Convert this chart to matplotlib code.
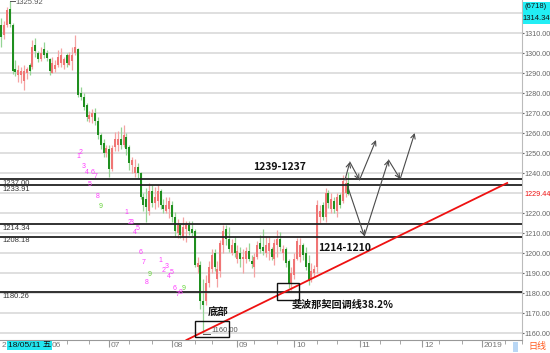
import matplotlib
matplotlib.use('Agg')
import matplotlib.pyplot as plt
import matplotlib.transforms as mtransforms
from matplotlib.patches import Rectangle
import numpy as np
import pandas as pd

plt.rcParams['font.family'] = ['Liberation Sans', 'Noto Sans CJK SC', 'DejaVu Sans']
CJK = ['Noto Sans CJK SC', 'DejaVu Sans']

# daily bars from 2018-05-09 (one per weekday)
first_day = '2018-05-09'
opens = [1314, 1309, 1314, 1322, 1314, 1292, 1289, 1289, 1286, 1290,
         1294, 1293, 1304, 1300, 1297, 1302, 1300, 1297, 1290, 1292,
         1294, 1295, 1294, 1299, 1294, 1296, 1300, 1302, 1280, 1278,
         1274, 1267, 1268, 1270, 1266, 1259, 1255, 1250, 1252, 1242,
         1253, 1254, 1257, 1254, 1258, 1253, 1244, 1240, 1243, 1240,
         1228, 1227, 1221, 1231, 1225, 1226, 1231, 1224, 1221, 1222,
         1224, 1218, 1210, 1214, 1208, 1212, 1214, 1212, 1211, 1193,
         1194, 1176, 1176, 1185, 1192, 1200, 1187, 1191, 1204, 1212,
         1207, 1200, 1205, 1197, 1200, 1197, 1197, 1201, 1196, 1193,
         1198, 1205, 1203, 1200, 1201, 1202, 1197, 1204, 1207, 1200,
         1202, 1196, 1185, 1189, 1197, 1198, 1204, 1200, 1195, 1187,
         1190, 1193, 1218, 1224, 1218, 1230, 1222, 1226, 1221, 1229,
         1226, 1230, 1235]
highs = [1317.5, 1316, 1323, 1325.92, 1315, 1296.5, 1294, 1293, 1294, 1293,
         1295, 1306.5, 1307.5, 1301, 1303, 1305.5, 1301.5, 1297.5, 1298, 1296.5,
         1301.5, 1302.5, 1298, 1300, 1300.5, 1303, 1309, 1302.5, 1283, 1280,
         1275, 1271, 1272, 1272.5, 1268, 1260, 1257, 1254, 1254, 1254,
         1260.5, 1261, 1263, 1264, 1260, 1254, 1248, 1247, 1245, 1240.5,
         1230, 1232.5, 1235, 1234, 1233, 1234, 1232, 1227, 1228, 1228,
         1226, 1220.5, 1217, 1215, 1218, 1216, 1216, 1216, 1212, 1198,
         1196, 1187, 1189, 1196, 1202, 1202, 1196, 1206.5, 1214, 1214,
         1213, 1207, 1208, 1204, 1203, 1202, 1203, 1205, 1199, 1200,
         1206, 1209, 1212, 1208, 1208, 1203, 1207, 1211.5, 1210.5, 1204,
         1203, 1197, 1193, 1200, 1207.5, 1207.5, 1205, 1203, 1199, 1195,
         1194, 1226.5, 1224, 1225.5, 1232.5, 1231.5, 1230, 1228, 1230, 1230,
         1239, 1238, 1240.5]
lows = [1303, 1307, 1313, 1313, 1289.5, 1288.5, 1285.5, 1285, 1281.5, 1287,
        1289, 1292, 1298, 1295.5, 1296, 1297.5, 1296, 1289, 1290, 1290.5,
        1293, 1293, 1292, 1293, 1294, 1291.5, 1299, 1278, 1276.5, 1271.5,
        1266, 1265.5, 1265, 1264, 1257, 1252, 1248, 1248, 1238, 1241,
        1251, 1251, 1252, 1253, 1249, 1241.5, 1240, 1238, 1237.5, 1227,
        1221, 1215.5, 1219, 1223, 1222, 1223, 1222, 1220, 1220, 1217.5,
        1215.5, 1208, 1207.5, 1207.5, 1206.5, 1205.5, 1209, 1208.5, 1193, 1190,
        1172, 1160, 1174, 1183, 1190, 1191, 1183, 1188, 1200, 1204,
        1200.5, 1199, 1198, 1195, 1193, 1190, 1195, 1196, 1192.5, 1188,
        1197, 1200, 1199, 1198, 1196.5, 1196.5, 1194, 1198, 1201, 1196.5,
        1193, 1182.5, 1181.5, 1187, 1196.5, 1195.5, 1196.5, 1191.5, 1184, 1185.5,
        1188, 1190, 1215, 1216.5, 1215.5, 1222.5, 1220, 1220, 1218, 1222.5,
        1225, 1228, 1229]
closes = [1308, 1314, 1321.5, 1314.5, 1291, 1290.5, 1291.5, 1291, 1291, 1292,
          1291, 1303, 1301, 1297, 1300, 1299, 1297.5, 1291, 1295, 1294,
          1298, 1299, 1297, 1295, 1299, 1299, 1303, 1279, 1278, 1273,
          1268, 1269, 1270, 1266, 1259, 1254, 1250, 1252.5, 1242, 1252.5,
          1257, 1257, 1254, 1259, 1252, 1245, 1246.5, 1243, 1240, 1228,
          1224, 1223, 1231, 1225, 1228, 1231, 1224, 1222, 1224, 1226,
          1218, 1211, 1214, 1209, 1213, 1214, 1211, 1210, 1194, 1195,
          1176, 1174, 1185, 1193, 1199, 1193, 1192, 1205, 1211, 1207,
          1202, 1204, 1200, 1201, 1197, 1198, 1201, 1197, 1194.5, 1198,
          1204, 1202, 1201, 1204, 1205, 1198, 1205, 1207, 1203, 1202,
          1195, 1185, 1190, 1197, 1206, 1204, 1199, 1193, 1186, 1191,
          1192, 1224, 1221, 1218, 1230, 1225, 1227, 1222, 1228, 1224,
          1236, 1235, 1229.44]

# horizontal levels and their labels
levels = [1237.00, 1233.91, 1214.34, 1208.18, 1180.26]

# TD count digits (bar index, price, digit)
td_idx = [27, 28, 29, 30, 31, 32, 33, 34, 35,
          44, 45, 46, 47, 48, 49, 50, 51, 52,
          56, 57, 58, 59, 60, 61, 62, 63, 64]
td_price = [1248, 1250, 1243.5, 1240.5, 1234, 1240, 1238, 1228, 1223.5,
            1220.5, 1215, 1215, 1210, 1212, 1200, 1195, 1185.5, 1189.5,
            1196, 1191.5, 1193, 1188, 1190, 1182, 1179, 1180.5, 1182]
td_num = [1, 2, 3, 4, 5, 6, 7, 8, 9] * 3

# red support line (bar index, price)
trend_x = [65.1, 177.8]
trend_y = [1156.5, 1235.0]

# projected zigzag paths (bar index, price)
path_a = [(120.8, 1236.5), (122.5, 1245.5), (125.9, 1236.5), (131.7, 1256.5)]
path_b = [(121.8, 1233.0), (127.6, 1208.5), (136.1, 1246.5), (140.2, 1237.0), (145.3, 1260.0)]

# right axis labels (1230 is covered by the last price)
ytick_vals = [1160, 1170, 1180, 1190, 1200, 1210, 1220, 1240, 1250,
              1260, 1270, 1280, 1290, 1300, 1310]
last_price = 1229.44
ticker_count = '(6718)'
ticker_price = '1314.34'

fig = plt.figure(figsize=(5.5, 3.53), dpi=100)
ax = fig.add_axes([0, 13 / 353, 522 / 550, 340 / 353])

n = len(closes)
idx = np.arange(n)
o = np.array(opens); h = np.array(highs); l = np.array(lows); c = np.array(closes)
up = c >= o

# gridlines
for p in range(1160, 1330, 10):
    ax.axhline(p, color='#dcdcdc', lw=1.3, zorder=0)

# candles
ax.vlines(idx[up], l[up], h[up], color='#f5a3a3', lw=0.9, zorder=2)
ax.vlines(idx[~up], l[~up], h[~up], color='#94d494', lw=0.9, zorder=2)
ax.bar(idx[up], np.maximum(c[up] - o[up], 0.4), bottom=o[up], width=0.7,
       color='#f07575', zorder=3)
ax.bar(idx[~up], np.maximum(o[~up] - c[~up], 0.4), bottom=c[~up], width=0.7,
       color='#1f8f1f', zorder=3)

# levels
for lv in levels:
    ax.axhline(lv, color='#222222', lw=1.3, zorder=4)
    ax.text(0.3, lv - 0.4, f'{lv:.2f}', fontsize=5.5, color='#333333',
            va='top', ha='left', zorder=5)

# TD digits
for xi, yp, d in zip(td_idx, td_price, td_num):
    col = '#66d23a' if d == 9 else '#ff3cff'
    ax.text(xi, yp, str(d), fontsize=5, color=col, ha='center', va='center', zorder=5)

# trend line
ax.plot(trend_x, trend_y, color='#ee1111', lw=1.3, zorder=6)

# projection arrows
for path in (path_a, path_b):
    for (x0, y0), (x1, y1) in zip(path[:-1], path[1:]):
        ax.annotate('', xy=(x1, y1), xytext=(x0, y0), zorder=7,
                    arrowprops=dict(arrowstyle='->', color='#4a4a4a', lw=0.8,
                                    shrinkA=0, shrinkB=0, mutation_scale=8))

# boxes
ax.add_patch(Rectangle((68.1, 1158), 12.1, 8, fill=False, ec='#111111', lw=1.0, zorder=7))
ax.add_patch(Rectangle((96.9, 1176.5), 7.8, 8.5, fill=False, ec='#111111', lw=1.0, zorder=7))

# annotations
ax.text(97.8, 1242.75, '1239-1237', fontsize=7.5, fontweight='bold', family=CJK,
        ha='center', va='center', color='#111111', zorder=8)
ax.text(111.3, 1202.5, '1214-1210', fontsize=7.5, fontweight='bold', family=CJK,
        ha='left', va='center', color='#111111', zorder=8)
ax.text(102.0, 1174, '斐波那契回调线38.2%', fontsize=7.3, fontweight='bold', family=CJK,
        ha='left', va='center', color='#111111', zorder=8)
ax.text(76.4, 1170, '底部', fontsize=7.5, fontweight='bold', family=CJK,
        ha='center', va='center', color='#111111', zorder=8)

# high / low markers
i_hi = int(np.argmax(h)); i_lo = int(np.argmin(l))
ax.plot([i_hi, i_hi + 1.7], [h[i_hi], h[i_hi]], color='#555555', lw=0.7, zorder=5)
ax.text(i_hi + 2.0, h[i_hi] - 0.7, f'{h[i_hi]:.2f}', fontsize=5.5, color='#555555',
        va='center', ha='left', zorder=5)
ax.plot([i_lo, i_lo + 2.5], [l[i_lo] - 0.5, l[i_lo] - 0.5], color='#555555', lw=0.7, zorder=8)
ax.text(i_lo + 2.8, l[i_lo] + 1.2, f'{l[i_lo]:.2f}', fontsize=5.5, color='#555555',
        va='center', ha='left', zorder=8)

# axes styling
ax.set_xlim(-0.41, 177.75)
ax.set_ylim(1156.5, 1326.5)
for s in ('top', 'left'):
    ax.spines[s].set_visible(False)
ax.spines['right'].set_color('#bbbbbb')
ax.spines['bottom'].set_color('#999999')
ax.yaxis.tick_right()
ax.set_yticks(ytick_vals)
ax.set_yticklabels([f'{v:.2f}' for v in ytick_vals])
ax.tick_params(axis='y', labelsize=5.2, colors='#666666', length=1.5, pad=0.5)

dates = pd.bdate_range(first_day, periods=190)
month_pos = [i for i in range(1, len(dates)) if dates[i].month != dates[i - 1].month]
month_lab = [('%d' % dates[i].year) if dates[i].month == 1 else '%02d' % dates[i].month
             for i in month_pos]
minor_pos = [i for i in range(len(dates)) if dates[i].day in (11, 12, 13) and
             (i == 0 or dates[i - 1].day < 11) or dates[i].day in (21, 22, 23) and
             (i == 0 or dates[i - 1].day < 21)]
ax.set_xticks(month_pos)
ax.set_xticklabels([])
ax.set_xticks(minor_pos, minor=True)
ax.tick_params(axis='x', which='major', length=5, color='#999999')
ax.tick_params(axis='x', which='minor', length=3, color='#999999')
btrans = mtransforms.blended_transform_factory(ax.transData, ax.transAxes)
for p, lab in zip(month_pos, month_lab):
    ax.text(p + 0.6, -0.005, lab, transform=btrans, fontsize=6, color='#777777',
            ha='left', va='top')
ax.text(0.3, -0.005, '2', transform=btrans, fontsize=6, color='#777777', ha='left', va='top')
ax.text(2.3, -0.005, '18/05/11 五', transform=btrans, fontsize=6, color='#111111',
        family=['Liberation Sans', 'Noto Sans CJK SC'], ha='left', va='top',
        bbox=dict(boxstyle='square,pad=0.1', fc='#22e6f0', ec='none'))

# right side labels
rtrans = mtransforms.blended_transform_factory(ax.transAxes, ax.transData)
ax.text(1.004, last_price, f'{last_price:.2f}', transform=rtrans,
        fontsize=5.2, color='#ee1111', ha='left', va='center')
fig.patches.append(Rectangle((522.5 / 550, 1 - 24 / 353), 27 / 550, 22 / 353,
                             transform=fig.transFigure, fc='#22eef5', ec='none', zorder=1))
fig.text(536 / 550, 1 - 7 / 353, ticker_count, fontsize=5.5, color='#111111', ha='center', va='center')
fig.text(536 / 550, 1 - 19 / 353, ticker_price, fontsize=5.5, color='#111111', ha='center', va='center')
fig.patches.append(Rectangle((513 / 550, 1 / 353), 5 / 550, 10 / 353,
                             transform=fig.transFigure, fc='#b9d7f5', ec='none'))
fig.text(528 / 550, 6 / 353, '日线', fontsize=6.5, color='#ff5a1e', family=CJK,
         ha='left', va='center')

fig.savefig('out.png', dpi=100)
